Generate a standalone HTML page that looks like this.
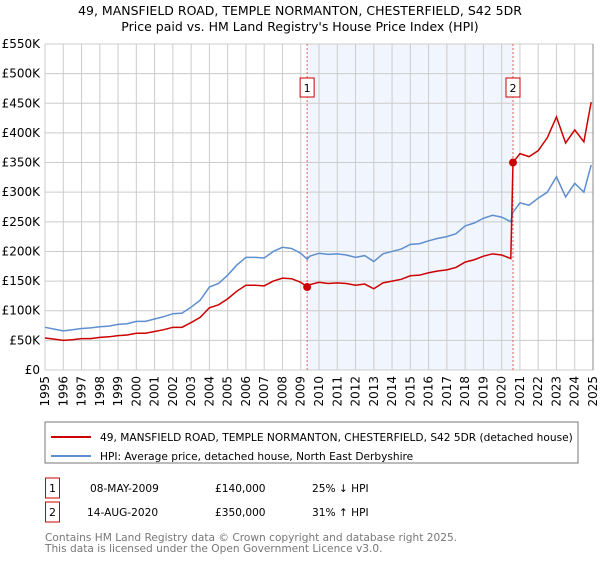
<!DOCTYPE html>
<html><head><meta charset="utf-8"><style>
body{margin:0;background:#fff;font-family:"DejaVu Sans","Liberation Sans",sans-serif;}
svg text{font-family:"DejaVu Sans","Liberation Sans",sans-serif;}
</style></head><body>
<svg id="c" width="600" height="560" xmlns="http://www.w3.org/2000/svg">
<text x="300" y="15" text-anchor="middle" font-size="12.5" fill="#000">49, MANSFIELD ROAD, TEMPLE NORMANTON, CHESTERFIELD, S42 5DR</text>
<text x="300" y="31" text-anchor="middle" font-size="12.5" fill="#000">Price paid vs. HM Land Registry's House Price Index (HPI)</text>
<g id="grid"></g><g id="series"></g><g id="axes"></g>
<rect x="45" y="422" width="533" height="41" fill="none" stroke="#777"/>
<line x1="51" y1="437" x2="91" y2="437" stroke="#cc0000" stroke-width="2"/>
<text x="100" y="441" font-size="10.6">49, MANSFIELD ROAD, TEMPLE NORMANTON, CHESTERFIELD, S42 5DR (detached house)</text>
<line x1="51" y1="456" x2="91" y2="456" stroke="#5f8fd0" stroke-width="2"/>
<text x="100" y="460" font-size="10.6">HPI: Average price, detached house, North East Derbyshire</text>
<rect x="45.5" y="478" width="14" height="20" fill="none" stroke="#cc0000"/>
<text x="52.5" y="492" text-anchor="middle" font-size="11">1</text>
<text x="90" y="492" font-size="10.6">08-MAY-2009</text>
<text x="215" y="492" font-size="10.6">£140,000</text>
<text x="312" y="492" font-size="10.6">25% ↓ HPI</text>
<rect x="45.5" y="502" width="14" height="20" fill="none" stroke="#cc0000"/>
<text x="52.5" y="516" text-anchor="middle" font-size="11">2</text>
<text x="87" y="516" font-size="10.6">14-AUG-2020</text>
<text x="215" y="516" font-size="10.6">£350,000</text>
<text x="312" y="516" font-size="10.6">31% ↑ HPI</text>
<text x="45" y="541" font-size="10.6" fill="#777">Contains HM Land Registry data © Crown copyright and database right 2025.</text>
<text x="45" y="552" font-size="10.6" fill="#777">This data is licensed under the Open Government Licence v3.0.</text>
</svg>
<script>
const years=[1995,1995.5,1996,1996.5,1997,1997.5,1998,1998.5,1999,1999.5,2000,2000.5,2001,2001.5,2002,2002.5,2003,2003.5,2004,2004.5,2005,2005.5,2006,2006.5,2007,2007.5,2008,2008.5,2009,2009.35,2009.5,2010,2010.5,2011,2011.5,2012,2012.5,2013,2013.5,2014,2014.5,2015,2015.5,2016,2016.5,2017,2017.5,2018,2018.5,2019,2019.5,2020,2020.5,2020.62,2021,2021.5,2022,2022.5,2023,2023.5,2024,2024.5,2024.9];
const hpi=[72,69,66,68,70,71,73,74,77,78,82,82,86,90,95,96,106,118,140,146,160,177,190,190,189,200,207,205,197,187,192,197,195,196,194,190,193,183,196,200,204,212,213,218,222,225,230,243,248,256,261,258,250,266,282,278,290,300,326,292,315,300,346];
const price=[54,52,50,51,53,53,55,56,58,59,62,62,65,68,72,72,80,89,105,110,120,133,143,143,142,150,155,154,148,140,144,148,146,147,146,143,145,137,147,150,153,159,160,164,167,169,173,182,186,192,196,194,188,350,365,360,370,392,427,383,405,385,452];
const sales=[{t:2009.35,v:140,n:"1"},{t:2020.62,v:350,n:"2"}];
const yTicks=[0,50,100,150,200,250,300,350,400,450,500,550];
const xTicks=[1995,1996,1997,1998,1999,2000,2001,2002,2003,2004,2005,2006,2007,2008,2009,2010,2011,2012,2013,2014,2015,2016,2017,2018,2019,2020,2021,2022,2023,2024,2025];
const X0=45,X1=593,Y0=370,Y1=44;
const sx=t=>X0+(t-1995)/30*(X1-X0);
const sy=v=>Y0-v/550*(Y0-Y1);
const NS="http://www.w3.org/2000/svg";
function mk(tag,parent,attrs){const e=document.createElementNS(NS,tag);for(const k in attrs)e.setAttribute(k,attrs[k]);parent.appendChild(e);return e;}
const g=document.getElementById('grid'),s=document.getElementById('series'),a=document.getElementById('axes');
const shade=mk('rect',g,{x:sx(sales[0].t),y:Y1,width:sx(sales[1].t)-sx(sales[0].t),height:Y0-Y1,fill:'#eef3fd',opacity:0.8});


yTicks.forEach(v=>{
 const l=mk('line',g,{x1:X0,x2:X1,y1:sy(v),y2:sy(v),stroke:'#ccc'});
 
 
 const t=mk('text',a,{x:40,y:sy(v)+4,'text-anchor':'end','font-size':12});
 t.textContent=v===0?'£0':'£'+v+'K';
 
 
});
xTicks.forEach(y=>{
 const l=mk('line',g,{x1:sx(y),x2:sx(y),y1:Y1,y2:Y0,stroke:'#ccc'});
 
 
 const t=mk('text',a,{x:0,y:0,'text-anchor':'end','font-size':12,transform:`translate(${sx(y)+4},${Y0+6}) rotate(-90)`});
 t.textContent=y;
 
 
});
const edge=mk('line',g,{x1:X1,x2:X1,y1:Y1,y2:Y0,stroke:'#888'});


sales.forEach(p=>{
 const l=mk('line',g,{x1:sx(p.t),x2:sx(p.t),y1:Y1,y2:Y0,stroke:'#e06060','stroke-dasharray':'2,2'});
 
 
});
const hp=mk('polyline',s,{points:years.map((t,i)=>sx(t)+','+sy(hpi[i])).join(' '),fill:'none',stroke:'#5f8fd0','stroke-width':1.5});


const pp=mk('polyline',s,{points:years.map((t,i)=>sx(t)+','+sy(price[i])).join(' '),fill:'none',stroke:'#cc0000','stroke-width':1.5});


sales.forEach(p=>{
 const c=mk('circle',s,{cx:sx(p.t),cy:sy(p.v),r:4,fill:'#cc0000'});
 
 
 const b=mk('rect',s,{x:sx(p.t)-7,y:78,width:14,height:19,fill:'#fff',stroke:'#cc0000'});
 
 
 const t=mk('text',s,{x:sx(p.t),y:92,'text-anchor':'middle','font-size':11});
 t.textContent=p.n;
 
 
});
</script>
</body></html>
